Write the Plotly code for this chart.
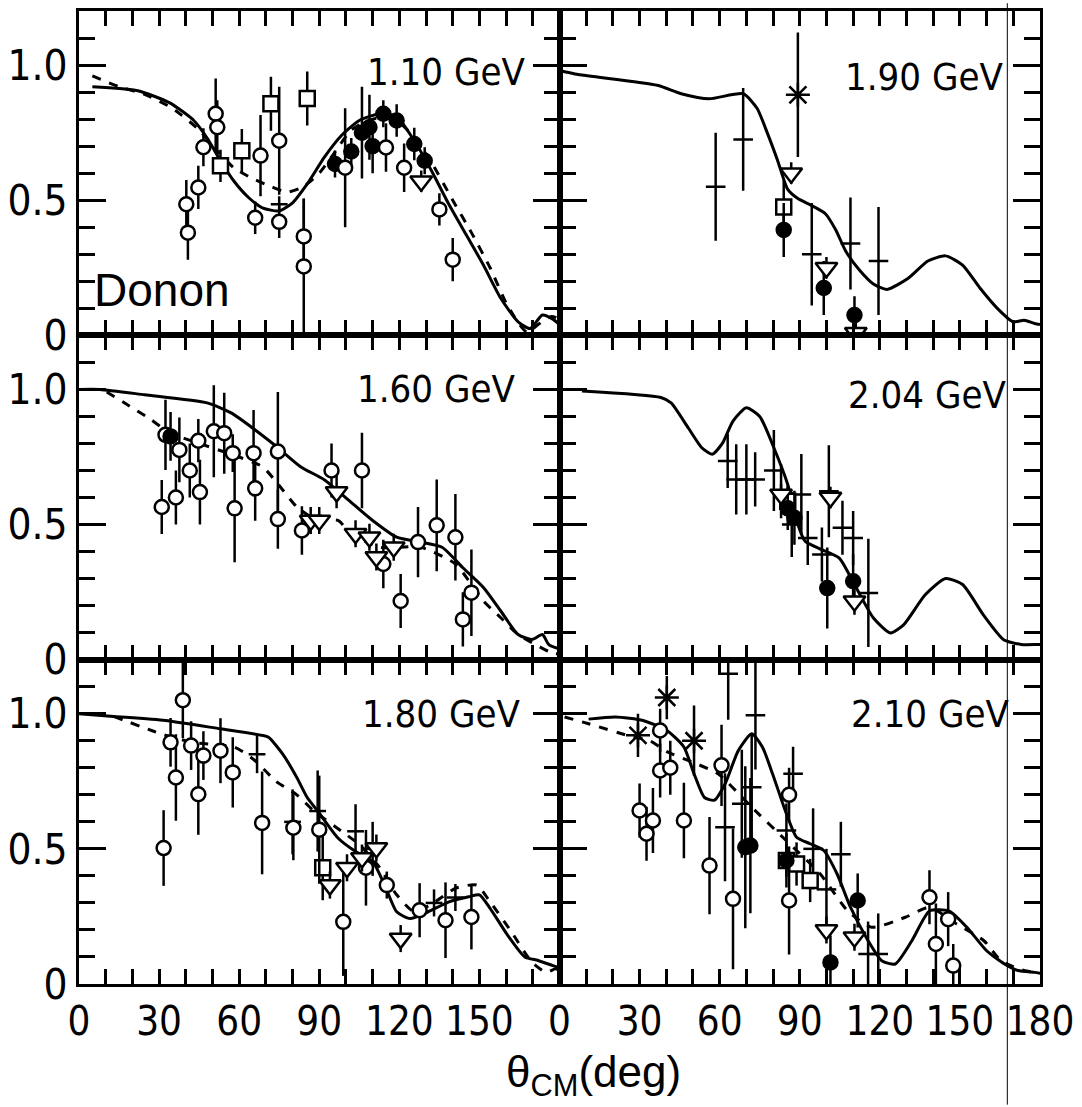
import plotly.graph_objects as go
from plotly.subplots import make_subplots

# ---------------- data ----------------
# 1.10 GeV
e110_solid_x = [5, 22, 34, 43, 48, 53, 58, 63.5, 68.7, 75, 80, 85.5, 92, 98.4, 105, 112.7, 119, 125.6, 132, 138.6, 145, 151.5, 158, 164.5, 169, 173.6, 177.5, 180]
e110_solid_y = [0.92, 0.905, 0.86, 0.795, 0.73, 0.646, 0.571, 0.51, 0.472, 0.46, 0.49, 0.56, 0.66, 0.74, 0.795, 0.82, 0.81, 0.72, 0.61, 0.484, 0.373, 0.26, 0.137, 0.05, 0.025, 0.075, 0.06, 0.04]
e110_dash_x = [5, 15, 25, 35, 45, 52, 58, 65, 72, 78, 84, 90, 96, 102, 110, 118, 125, 132, 140, 147, 154, 160, 165, 168, 172, 177, 180]
e110_dash_y = [0.96, 0.92, 0.89, 0.84, 0.76, 0.68, 0.62, 0.58, 0.55, 0.53, 0.55, 0.6, 0.68, 0.76, 0.8, 0.8, 0.74, 0.64, 0.5, 0.38, 0.25, 0.12, 0.04, 0.01, 0.04, 0.07, 0.06]
e110_circ_x = [40.2, 40.8, 44.7, 46.6, 51.2, 51.8, 66, 68, 75, 75, 84.2, 84.2, 99.7, 115, 121.8, 135, 140]
e110_circ_y = [0.485, 0.38, 0.547, 0.696, 0.82, 0.77, 0.435, 0.665, 0.72, 0.42, 0.366, 0.255, 0.62, 0.695, 0.62, 0.466, 0.28]
e110_circ_e = [0.09, 0.1, 0.08, 0.07, 0.13, 0.1, 0.06, 0.15, 0.2, 0.06, 0.14, 0.25, 0.22, 0.09, 0.09, 0.06, 0.08]
e110_fill_x = [95.9, 102, 106, 108.8, 110, 114, 119, 125.6, 129.5]
e110_fill_y = [0.634, 0.68, 0.75, 0.77, 0.7, 0.82, 0.795, 0.708, 0.646]
e110_fill_e = [0.05, 0.05, 0.17, 0.12, 0.1, 0.05, 0.06, 0.06, 0.05]
e110_sq_x = [53, 61, 71.9, 85.5]
e110_sq_y = [0.627, 0.683, 0.857, 0.876]
e110_sq_e = [0.06, 0.08, 0.1, 0.1]
e110_tri_x = [128.2]
e110_tri_y = [0.57]
e110_tri_e = [0.04]
e110_plus_x = [75]
e110_plus_y = [0.485]
e110_plus_e = [0.03]

# 1.90 GeV
e190_solid_x = [0, 7, 36.6, 45.6, 56, 68.8, 74, 77.8, 81.6, 85.5, 89.3, 94.5, 99.6, 103.5, 107.3, 112.5, 117.6, 122.7, 130.5, 138, 144.6, 151, 157.5, 164, 170, 174, 178, 180]
e190_solid_y = [0.98, 0.965, 0.925, 0.894, 0.875, 0.894, 0.84, 0.75, 0.65, 0.54, 0.506, 0.48, 0.45, 0.39, 0.31, 0.24, 0.19, 0.17, 0.21, 0.275, 0.294, 0.26, 0.175, 0.1, 0.05, 0.056, 0.044, 0.04]
e190_plus_x = [58.5, 68.8, 94.5, 109, 119.5]
e190_plus_y = [0.55, 0.725, 0.3, 0.34, 0.275]
e190_plus_e = [0.2, 0.19, 0.19, 0.17, 0.2]
e190_ast_x = [89.3]
e190_ast_y = [0.89]
e190_ast_e = [0.23]
e190_tri_x = [86.8, 100, 111]
e190_tri_y = [0.6, 0.25, 0.01]
e190_tri_e = [0.04, 0.04, 0.04]
e190_sq_x = [84]
e190_sq_y = [0.475]
e190_sq_e = [0.1]
e190_fill_x = [84, 99, 110.5]
e190_fill_y = [0.39, 0.175, 0.075]
e190_fill_e = [0.1, 0.1, 0.07]

# 1.60 GeV
e160_solid_x = [0, 7.8, 24.6, 48, 57, 66, 73.8, 83, 92, 101, 110, 119, 128, 136, 143.8, 151.5, 158, 164.5, 169.7, 173.6, 176, 180]
e160_solid_y = [1.0, 1.0, 0.98, 0.95, 0.913, 0.85, 0.79, 0.714, 0.665, 0.59, 0.515, 0.453, 0.435, 0.416, 0.34, 0.267, 0.18, 0.093, 0.075, 0.093, 0.056, 0.04]
e160_dash_x = [10.4, 18, 27, 33.7, 45, 57, 68.7, 76.4, 81.6, 89.4, 97, 102, 112.7, 128, 141, 151.5, 158, 164.5, 171, 176, 180]
e160_dash_y = [0.99, 0.944, 0.888, 0.84, 0.8, 0.76, 0.714, 0.627, 0.565, 0.515, 0.515, 0.466, 0.416, 0.416, 0.354, 0.217, 0.155, 0.093, 0.056, 0.03, 0.02]
e160_circ_x = [31, 32.4, 36.3, 37.6, 41.5, 44.7, 45.3, 50.5, 54.4, 57.6, 58.3, 65.4, 66, 74.5, 74.5, 83.5, 94.6, 106, 114, 120.5, 127, 134, 141, 143.8, 147]
e160_circ_y = [0.565, 0.832, 0.6, 0.776, 0.7, 0.81, 0.62, 0.845, 0.838, 0.764, 0.56, 0.764, 0.634, 0.77, 0.52, 0.478, 0.7, 0.7, 0.354, 0.217, 0.435, 0.497, 0.453, 0.149, 0.248]
e160_circ_e = [0.1, 0.13, 0.1, 0.12, 0.1, 0.08, 0.12, 0.17, 0.15, 0.07, 0.2, 0.16, 0.12, 0.22, 0.11, 0.09, 0.1, 0.14, 0.09, 0.1, 0.13, 0.17, 0.16, 0.1, 0.16]
e160_fill_x = [34.3]
e160_fill_y = [0.826]
e160_fill_e = [0.09]
e160_tri_x = [86.8, 90, 96.5, 103.6, 108.8, 111.4, 117.9]
e160_tri_y = [0.515, 0.515, 0.62, 0.466, 0.453, 0.38, 0.416]
e160_tri_e = [0.05, 0.05, 0.06, 0.05, 0.05, 0.05, 0.05]

# 2.04 GeV
e204_solid_x = [8.4, 38, 41.8, 48.2, 53.3, 57.2, 61, 65, 70, 75, 80.3, 85.5, 89.3, 92, 98.3, 104.8, 111.2, 117.6, 124, 129, 137, 144.6, 151, 158.7, 166.4, 173, 179, 180]
e204_solid_y = [0.994, 0.97, 0.95, 0.858, 0.784, 0.76, 0.8, 0.883, 0.932, 0.9, 0.784, 0.648, 0.5, 0.438, 0.407, 0.376, 0.265, 0.154, 0.099, 0.13, 0.24, 0.3, 0.278, 0.167, 0.074, 0.056, 0.056, 0.056]
e204_plus_x = [63, 66.2, 70, 73.3, 80.3, 83, 87, 90.6, 93, 98.3, 100.9, 106, 110, 115.7]
e204_plus_y = [0.735, 0.667, 0.667, 0.667, 0.7, 0.623, 0.5, 0.611, 0.45, 0.389, 0.623, 0.488, 0.45, 0.247]
e204_plus_e = [0.1, 0.13, 0.13, 0.1, 0.15, 0.1, 0.12, 0.15, 0.1, 0.1, 0.17, 0.1, 0.1, 0.2]
e204_fill_x = [85.5, 88, 100.3, 110]
e204_fill_y = [0.56, 0.525, 0.265, 0.29]
e204_fill_e = [0.08, 0.1, 0.15, 0.1]
e204_tri_x = [83, 101.5, 110.5]
e204_tri_y = [0.611, 0.6, 0.216]
e204_tri_e = [0.04, 0.04, 0.05]
e204_sq_x = [85.5]
e204_sq_y = [0.586]
e204_sq_e = [0.06]

# 1.80 GeV
e180_solid_x = [0, 13, 32.4, 53, 68.6, 71, 76.4, 81.6, 85.5, 89.4, 97, 103.6, 110, 115, 119, 124, 130.8, 138.6, 146, 150, 154, 160.6, 167, 172, 177.5, 180]
e180_solid_y = [1.0, 0.99, 0.975, 0.944, 0.92, 0.913, 0.85, 0.764, 0.69, 0.64, 0.54, 0.49, 0.453, 0.354, 0.267, 0.242, 0.267, 0.304, 0.323, 0.33, 0.28, 0.18, 0.1, 0.087, 0.068, 0.06]
e180_dash_x = [13, 31, 42.7, 58.3, 66, 73.8, 81.6, 88, 98.4, 105, 112.7, 119, 125.6, 133.4, 141, 149, 154, 162, 169.7, 175, 178.5, 180]
e180_dash_y = [0.99, 0.925, 0.894, 0.876, 0.826, 0.75, 0.7, 0.64, 0.565, 0.516, 0.43, 0.33, 0.267, 0.304, 0.354, 0.366, 0.304, 0.193, 0.08, 0.043, 0.056, 0.05]
e180_circ_x = [31.7, 34.3, 36.3, 38.9, 42, 44.7, 46.6, 53, 57.6, 68.6, 80.3, 90, 99, 107.5, 115.3, 127.6, 137.3, 147]
e180_circ_y = [0.503, 0.894, 0.764, 1.05, 0.882, 0.702, 0.845, 0.863, 0.783, 0.596, 0.578, 0.571, 0.23, 0.43, 0.366, 0.273, 0.236, 0.248]
e180_circ_e = [0.14, 0.09, 0.16, 0.14, 0.09, 0.15, 0.09, 0.12, 0.13, 0.19, 0.12, 0.2, 0.2, 0.14, 0.05, 0.1, 0.14, 0.12]
e180_tri_x = [94, 100.4, 106, 111.4, 120.5]
e180_tri_y = [0.366, 0.43, 0.466, 0.503, 0.168]
e180_tri_e = [0.05, 0.05, 0.05, 0.05, 0.05]
e180_plus_x = [66.7, 80, 89.4, 103.6, 110, 133, 141]
e180_plus_y = [0.85, 0.6, 0.64, 0.565, 0.5, 0.3, 0.32]
e180_plus_e = [0.07, 0.12, 0.15, 0.1, 0.1, 0.05, 0.05]
e180_sq_x = [91.3]
e180_sq_y = [0.43]
e180_sq_e = [0.12]

# 2.10 GeV
e210_solid_x = [10.9, 21, 31.3, 40.2, 46.6, 50.4, 54.3, 58, 62, 67, 72, 76, 79.8, 85, 88.8, 93.9, 99, 104, 109, 115.6, 120.7, 125.8, 132, 138.6, 146, 152.6, 160, 166.7, 171.8, 178, 180]
e210_solid_y = [0.98, 0.988, 0.975, 0.938, 0.877, 0.778, 0.69, 0.68, 0.74, 0.864, 0.926, 0.877, 0.778, 0.63, 0.543, 0.519, 0.494, 0.407, 0.284, 0.16, 0.086, 0.074, 0.16, 0.27, 0.27, 0.21, 0.123, 0.074, 0.05, 0.043, 0.04]
e210_dash_x = [1.9, 10.9, 27.5, 33.8, 40.2, 50, 59.4, 72, 85, 97.7, 108, 116.9, 129.6, 138.6, 148.8, 159, 165.4, 174, 180]
e210_dash_y = [0.988, 0.963, 0.914, 0.9, 0.86, 0.82, 0.778, 0.654, 0.53, 0.407, 0.27, 0.21, 0.247, 0.284, 0.222, 0.16, 0.086, 0.05, 0.04]
e210_circ_x = [30, 32.6, 35, 37.7, 37.7, 41.5, 46.6, 56.2, 60.7, 65, 86, 86, 138.6, 141, 145.6, 147.5]
e210_circ_y = [0.642, 0.556, 0.605, 0.79, 0.938, 0.8, 0.605, 0.438, 0.809, 0.315, 0.7, 0.309, 0.321, 0.148, 0.24, 0.068]
e210_circ_e = [0.1, 0.1, 0.12, 0.1, 0.08, 0.1, 0.14, 0.18, 0.15, 0.26, 0.1, 0.2, 0.1, 0.15, 0.1, 0.08]
e210_fill_x = [69.6, 71.5, 85, 101.5, 111.7]
e210_fill_y = [0.506, 0.512, 0.457, 0.08, 0.309]
e210_fill_e = [0.3, 0.25, 0.1, 0.1, 0.1]
e210_ast_x = [29.4, 40.2, 50.4]
e210_ast_y = [0.92, 1.06, 0.9]
e210_ast_e = [0.08, 0.08, 0.13]
e210_plus_x = [62, 63.2, 68.3, 72, 73.4, 85, 87.5, 95, 100, 105.4, 115.6, 119.4]
e210_plus_y = [0.58, 1.148, 0.667, 0.728, 0.994, 0.568, 0.778, 0.5, 0.35, 0.48, 0.111, 0.111]
e210_plus_e = [0.2, 0.17, 0.2, 0.2, 0.2, 0.1, 0.1, 0.15, 0.15, 0.12, 0.12, 0.15]
e210_sq_x = [85, 88.8, 93.9]
e210_sq_y = [0.457, 0.444, 0.383]
e210_sq_e = [0.06, 0.08, 0.08]
e210_tri_x = [100, 110.5]
e210_tri_y = [0.2, 0.173]
e210_tri_e = [0.05, 0.05]

energy_labels = ["1.10 GeV", "1.90 GeV", "1.60 GeV", "2.04 GeV", "1.80 GeV", "2.10 GeV"]
x_tick_vals = list(range(0, 181, 10))
y_major_vals = [0, 0.5, 1.0]
y_major_text = ["0", "0.5", "1.0"]
y_minor_vals = [0.1, 0.2, 0.3, 0.4, 0.6, 0.7, 0.8, 0.9, 1.1]

# ---------------- figure ----------------
BLACK = "black"
LW = 3
fig = make_subplots(rows=3, cols=2, horizontal_spacing=0, vertical_spacing=0)

def curve(x, y, r, c, dash="solid"):
    fig.add_trace(go.Scatter(x=x, y=y, mode="lines", line=dict(color=BLACK, width=LW, dash=dash, shape="spline", smoothing=0.6),
                             showlegend=False, hoverinfo="skip"), row=r, col=c)

def points(x, y, e, r, c, symbol, size, color="white"):
    fig.add_trace(go.Scatter(x=x, y=y, mode="markers",
                             error_y=dict(type="data", array=e, visible=True, color=BLACK, thickness=2.5, width=0),
                             marker=dict(symbol=symbol, size=size, color=color, line=dict(color=BLACK, width=2.5)),
                             showlegend=False, cliponaxis=True), row=r, col=c)

# 1.10 GeV (row1,col1)
curve(e110_solid_x, e110_solid_y, 1, 1)
curve(e110_dash_x, e110_dash_y, 1, 1, "dash")
points(e110_fill_x, e110_fill_y, e110_fill_e, 1, 1, "circle", 14, BLACK)
points(e110_circ_x, e110_circ_y, e110_circ_e, 1, 1, "circle", 14)
points(e110_sq_x, e110_sq_y, e110_sq_e, 1, 1, "square", 15)
points(e110_tri_x, e110_tri_y, e110_tri_e, 1, 1, "triangle-down", 19)
points(e110_plus_x, e110_plus_y, e110_plus_e, 1, 1, "line-ew", 12)

# 1.90 GeV (row1,col2)
curve(e190_solid_x, e190_solid_y, 1, 2)
points(e190_plus_x, e190_plus_y, e190_plus_e, 1, 2, "line-ew", 14)
points(e190_sq_x, e190_sq_y, e190_sq_e, 1, 2, "square", 15)
points(e190_fill_x, e190_fill_y, e190_fill_e, 1, 2, "circle", 14, BLACK)
points(e190_tri_x, e190_tri_y, e190_tri_e, 1, 2, "triangle-down", 19)
points(e190_ast_x, e190_ast_y, e190_ast_e, 1, 2, "asterisk", 20)

# 1.60 GeV (row2,col1)
curve(e160_solid_x, e160_solid_y, 2, 1)
curve(e160_dash_x, e160_dash_y, 2, 1, "dash")
points(e160_circ_x, e160_circ_y, e160_circ_e, 2, 1, "circle", 14)
points(e160_fill_x, e160_fill_y, e160_fill_e, 2, 1, "circle", 14, BLACK)
points(e160_tri_x, e160_tri_y, e160_tri_e, 2, 1, "triangle-down", 19)

# 2.04 GeV (row2,col2)
curve(e204_solid_x, e204_solid_y, 2, 2)
points(e204_plus_x, e204_plus_y, e204_plus_e, 2, 2, "line-ew", 14)
points(e204_sq_x, e204_sq_y, e204_sq_e, 2, 2, "square", 15)
points(e204_fill_x, e204_fill_y, e204_fill_e, 2, 2, "circle", 14, BLACK)
points(e204_tri_x, e204_tri_y, e204_tri_e, 2, 2, "triangle-down", 19)

# 1.80 GeV (row3,col1)
curve(e180_solid_x, e180_solid_y, 3, 1)
curve(e180_dash_x, e180_dash_y, 3, 1, "dash")
points(e180_plus_x, e180_plus_y, e180_plus_e, 3, 1, "line-ew", 12)
points(e180_sq_x, e180_sq_y, e180_sq_e, 3, 1, "square", 15)
points(e180_circ_x, e180_circ_y, e180_circ_e, 3, 1, "circle", 14)
points(e180_tri_x, e180_tri_y, e180_tri_e, 3, 1, "triangle-down", 19)

# 2.10 GeV (row3,col2)
curve(e210_solid_x, e210_solid_y, 3, 2)
curve(e210_dash_x, e210_dash_y, 3, 2, "dash")
points(e210_plus_x, e210_plus_y, e210_plus_e, 3, 2, "line-ew", 14)
points(e210_sq_x, e210_sq_y, e210_sq_e, 3, 2, "square", 15)
points(e210_circ_x, e210_circ_y, e210_circ_e, 3, 2, "circle", 14)
points(e210_fill_x, e210_fill_y, e210_fill_e, 3, 2, "circle", 14, BLACK)
points(e210_tri_x, e210_tri_y, e210_tri_e, 3, 2, "triangle-down", 19)
points(e210_ast_x, e210_ast_y, e210_ast_e, 3, 2, "asterisk", 20)

FONT = "Liberation Sans Narrow, DejaVu Sans Condensed, Arial Narrow, sans-serif"

for r in (1, 2, 3):
    for c in (1, 2):
        if r == 3:
            if c == 1:
                xt = [str(v) if (v % 30 == 0 and v < 180) else "" for v in x_tick_vals]
            else:
                xt = [str(v) if v % 30 == 0 else "" for v in x_tick_vals]
            show_x = True
        else:
            xt = ["" for _ in x_tick_vals]
            show_x = False
        fig.update_xaxes(range=[0, 180], tickmode="array", tickvals=x_tick_vals, ticktext=xt, tickangle=0,
                         showticklabels=show_x, ticks="inside", ticklen=15, tickwidth=2.5, tickcolor=BLACK,
                         showline=True, linewidth=LW, linecolor=BLACK, mirror="ticks", showgrid=False,
                         zeroline=False, tickfont=dict(family=FONT, size=40, color=BLACK), row=r, col=c)
        fig.update_yaxes(range=[0, 1.2], tickmode="array", tickvals=y_major_vals, ticktext=y_major_text,
                         showticklabels=(c == 1), ticks="inside", ticklen=27, tickwidth=2.5, tickcolor=BLACK,
                         minor=dict(tickmode="array", tickvals=y_minor_vals, ticks="inside", ticklen=16,
                                    tickwidth=2.5, tickcolor=BLACK, showgrid=False),
                         showline=True, linewidth=LW, linecolor=BLACK, mirror="ticks", showgrid=False,
                         zeroline=False, tickfont=dict(family=FONT, size=42, color=BLACK), row=r, col=c)

# energy labels
label_pos = [(1, 1, 168, 0.975), (1, 2, 167, 0.955), (2, 1, 164, 1.0), (2, 2, 168, 0.98), (3, 1, 166, 1.0), (3, 2, 169, 1.0)]
for (r, c, lx, ly), txt in zip(label_pos, energy_labels):
    idx = (r - 1) * 2 + c
    xr = "x" if idx == 1 else f"x{idx}"
    yr = "y" if idx == 1 else f"y{idx}"
    fig.add_annotation(x=lx, y=ly, xref=xr, yref=yr, text=txt, showarrow=False, xanchor="right", yanchor="middle",
                       font=dict(family=FONT, size=38, color=BLACK))

fig.add_annotation(x=5, y=0.168, xref="x", yref="y", text="Donon", showarrow=False, xanchor="left", yanchor="middle",
                   font=dict(family="Liberation Sans, Arial, sans-serif", size=46, color=BLACK))

fig.add_annotation(x=0.535, y=-0.094, xref="paper", yref="paper", text="θ<sub>CM</sub>(deg)", showarrow=False,
                   xanchor="center", yanchor="middle", font=dict(family="Liberation Sans, Arial, sans-serif", size=44, color=BLACK))

# thin scan line at right
fig.add_shape(type="line", xref="paper", yref="paper", x0=0.966, x1=0.966, y0=1.008, y1=-0.124,
              line=dict(color=BLACK, width=1))

fig.update_layout(width=1082, height=1107, margin=dict(l=68, r=39, t=8, b=123),
                  paper_bgcolor="white", plot_bgcolor="white", showlegend=False)

fig.write_html("out.html")
